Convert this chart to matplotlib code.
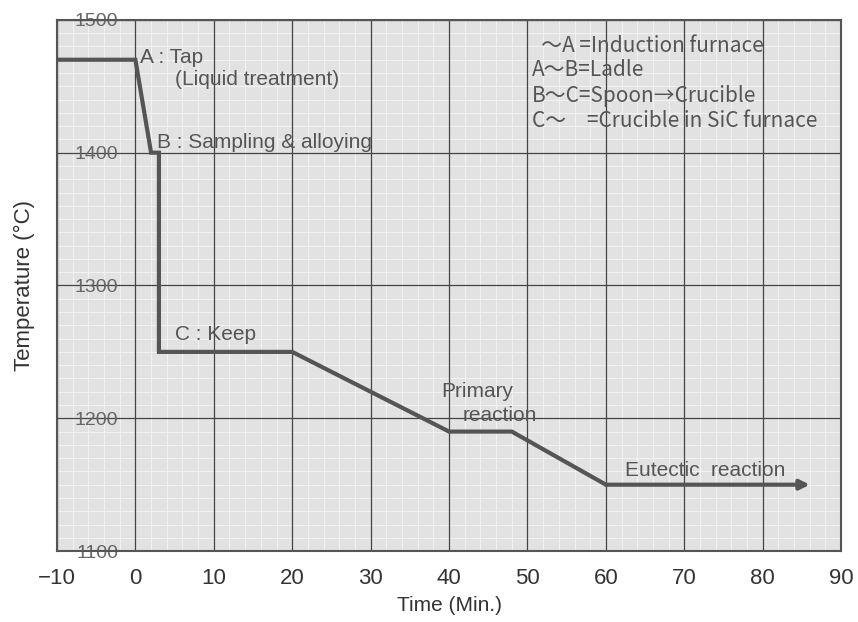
import numpy as np
import matplotlib as mpl
mpl.use('Agg')
import matplotlib.pyplot as plt

# temperature path (min, degC)
time_min = [-10, 0, 2, 3, 3, 20, 40, 48, 60, 86]
temp_c = [1470, 1470, 1400, 1400, 1250, 1250, 1190, 1190, 1150, 1150]

x_ticks = [-10, 0, 10, 20, 30, 40, 50, 60, 70, 80, 90]
y_ticks = [1100, 1200, 1300, 1400, 1500]

legend_lines = ["  ～A =Induction furnace",
                "A～B=Ladle",
                "B～C=Spoon→Crucible",
                "C～\u3000=Crucible in SiC furnace"]

ink = '#555555'
plt.rcParams['font.family'] = ['Liberation Sans', 'DejaVu Sans']

fig = plt.figure(figsize=(8.58, 6.22), dpi=100)
ax = fig.add_axes([0.0664, 0.114, 0.914, 0.854])
ax.set_facecolor('#e2e2e2')

# graph paper fine grid, kept under the major grid
ax.vlines(np.arange(-10, 91, 2), 1100, 1500, color='#f2f2f2', lw=0.8, zorder=0.1)
ax.hlines(np.arange(1100, 1501, 10), -10, 90, color='#f2f2f2', lw=0.8, zorder=0.1)

ax.plot(time_min[:-1], temp_c[:-1], color=ink, lw=3, solid_joinstyle='miter', zorder=3)
ax.annotate('', xy=(time_min[-1], temp_c[-1]), xytext=(time_min[-2], temp_c[-2]),
            arrowprops=dict(arrowstyle='-|>', color=ink, lw=3, mutation_scale=14,
                            shrinkA=0, shrinkB=0), zorder=3)

ax.set_xlim(-10, 90)
ax.set_ylim(1100, 1500)
ax.set_xticks(x_ticks)
ax.set_yticks(y_ticks)
ax.grid(which='major', color='#444444', lw=0.9)
ax.set_axisbelow(True)

ax.tick_params(which='both', length=0)
ax.tick_params(axis='x', labelsize=16, pad=12, colors='#333333')
ax.tick_params(axis='y', labelsize=14, pad=-44, colors='#666666')
for s in ax.spines.values():
    s.set_color('#555555')
    s.set_linewidth(1.5)

ax.set_xlabel('Time (Min.)', fontsize=15, color='#333333', labelpad=5)
ax.set_ylabel('Temperature (\u00b0C)', fontsize=16, color='#333333', labelpad=16)

tkw = dict(fontsize=15, color='#555555', va='center', ha='left')
ax.text(0.6, 1472, 'A : Tap', **tkw)
ax.text(5.0, 1455, '(Liquid treatment)', **tkw)
ax.text(2.8, 1408, 'B : Sampling & alloying', **tkw)
ax.text(5.0, 1263, 'C : Keep', **tkw)
ax.text(39.0, 1220, 'Primary', **tkw)
ax.text(41.7, 1202, 'reaction', **tkw)
ax.text(62.4, 1161, 'Eutectic  reaction', **tkw)

leg_y = [1480, 1462, 1443, 1424]
for yy, s in zip(leg_y, legend_lines):
    ax.text(50.6, yy, s, fontsize=15, color='#555555', va='center', ha='left',
            family=['Noto Sans CJK JP', 'DejaVu Sans'])

plt.savefig('out.png', dpi=100)
plt.close()
